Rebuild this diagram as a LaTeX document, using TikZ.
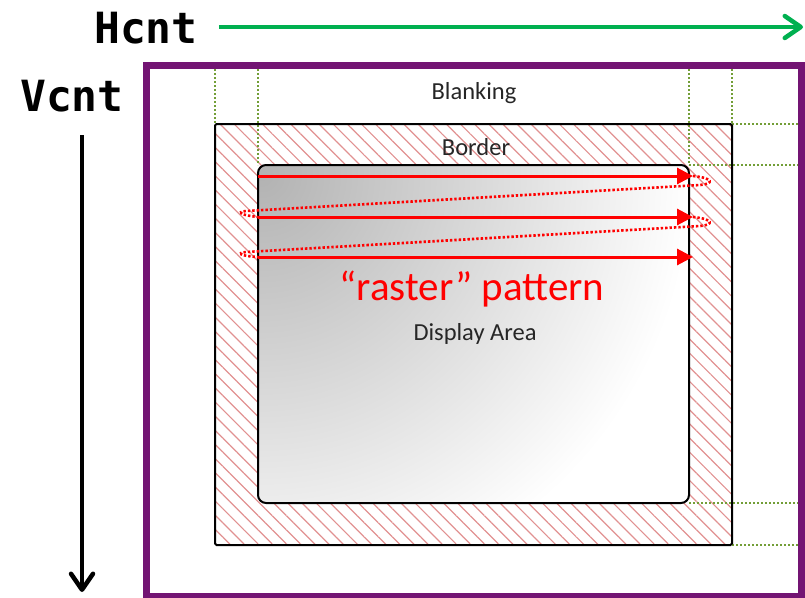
\documentclass[tikz,border=0pt]{standalone}
\usepackage{fontspec}
\setmainfont{Carlito}
\newfontfamily\cntfont{DejaVu Sans Mono}
\usetikzlibrary{arrows.meta,patterns.meta}
\definecolor{hgreen}{RGB}{0,176,80}
\definecolor{frame}{RGB}{115,20,115}
\definecolor{olive}{RGB}{115,158,55}
\definecolor{hatch}{RGB}{225,145,145}
\begin{document}
\begin{tikzpicture}[x=1pt,y=-1pt,
  cnt/.style={font=\cntfont\bfseries\fontsize{43}{47}\selectfont, inner sep=3pt},
  cntarrow/.style={line width=4.5pt, -{Straight Barb[length=16pt,width=22pt,line cap=round,line join=round]}},
  guide/.style={olive, line width=2.2pt, dash pattern=on 2pt off 2pt},
  lbl/.style={font=\fontsize{24.5}{27}\selectfont, text=black!85},
  scan/.style={red, line width=3pt, -{Triangle[length=16pt,width=16pt]}},
  retrace/.style={red, line width=2.6pt, dash pattern=on 2.4pt off 2pt}]
\useasboundingbox (0,0) rectangle (805,597);
% counters
\node[cnt] (hcnt) at (146,28) {Hcnt};
\coordinate (hend) at (803,27);
\draw[cntarrow, hgreen, shorten <=18pt] (hcnt.east |- hend) -- (hend);
\node[cnt] (vcnt) at (72,96) {Vcnt};
\coordinate (vstart) at (82,135);
\coordinate (vend) at (82,592);
\draw[cntarrow, black] (vstart) -- (vend);
% frame
\draw[frame, line width=7pt] (146.5,65.5) rectangle (801.5,596.5);
% border hatch
\fill[pattern={Lines[angle=-45,distance=10pt,line width=1.2pt]}, pattern color=hatch] (215,124) rectangle (732,545);
% guides
\draw[guide] (215,69) -- (215,124);
\draw[guide] (258,69) -- (258,165);
\draw[guide] (689,69) -- (689,165);
\draw[guide] (732,69) -- (732,124);
\draw[guide] (732,124) -- (798,124);
\draw[guide] (689,165) -- (798,165);
\draw[guide] (689,503) -- (798,503);
\draw[guide] (732,545) -- (798,545);
% border outline
\draw[line width=2pt, rounded corners=1.5pt] (215,124) rectangle (732,545);
% display area
\begin{scope}
  \clip[rounded corners=8pt] (258,165) rectangle (689,503);
  \fill[white] (258,165) rectangle (689,503);
  \shade[inner color=gray!60, outer color=white] (262,175) circle (430pt);
\end{scope}
\draw[line width=2pt, rounded corners=8pt] (258,165) rectangle (689,503);
% labels
\node[lbl] (blank) at (474,93) {Blanking};
\node[lbl] (border) at (476,147) {Border};
\node[lbl] (disp) at (475,334) {Display Area};
\node[red, font=\fontsize{41}{45}\selectfont] (raster) at (472,289) {“raster” pattern};
% raster scan
\coordinate (a1s) at (258,176); \coordinate (a1e) at (693,176);
\coordinate (a2s) at (258,217); \coordinate (a2e) at (693,217);
\coordinate (a3s) at (258,257); \coordinate (a3e) at (693,257);
\draw[scan] (a1s) -- (a1e);
\draw[scan] (a2s) -- (a2e);
\draw[scan] (a3s) -- (a3e);
\draw[retrace] (a1e) .. controls (714,178) and (714,184) .. (700,185) -- (246,211) .. controls (236,212) and (240,215) .. (a2s);
\draw[retrace] (a2e) .. controls (714,219) and (714,225) .. (700,226) -- (246,252) .. controls (236,253) and (240,256) .. (a3s);
\end{tikzpicture}
\end{document}
